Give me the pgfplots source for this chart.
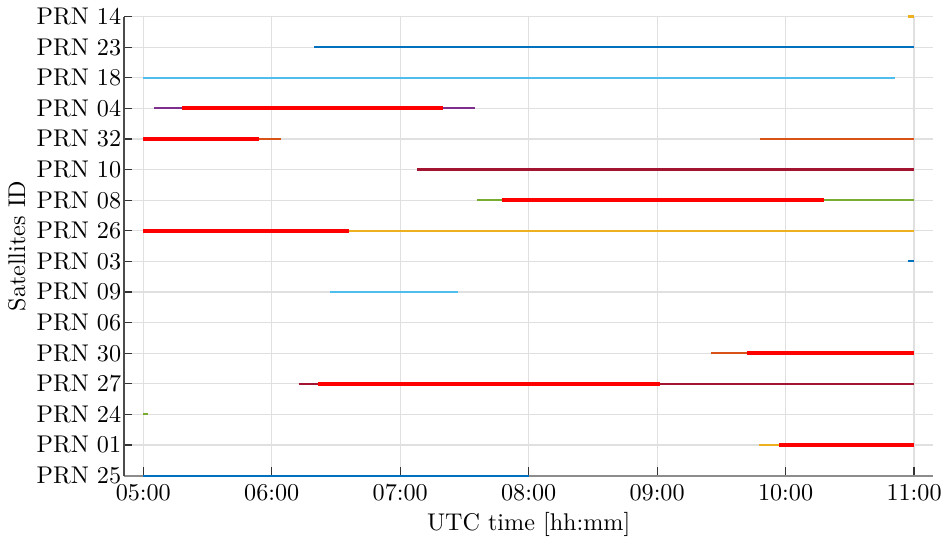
\documentclass[border=0pt]{standalone}
\usepackage{pgfplots}
\pgfplotsset{compat=1.18}
\definecolor{mblue}{RGB}{0,114,189}
\definecolor{morange}{RGB}{217,83,25}
\definecolor{myellow}{RGB}{237,177,32}
\definecolor{mpurple}{RGB}{126,47,142}
\definecolor{mgreen}{RGB}{119,172,48}
\definecolor{mlblue}{RGB}{77,190,238}
\definecolor{mdred}{RGB}{162,20,47}
\begin{document}
\begin{tikzpicture}
\begin{axis}[
  scale only axis,
  width=335pt, height=190pt,
  xmin=4.85, xmax=11.15,
  ymin=0, ymax=15,
  clip=false,
  axis lines*=left,
  y axis line style={draw=black!70, line width=0.5pt},
  x axis line style={draw=gray!90, line width=0.8pt},
  xtick={5,6,7,8,9,10,11},
  xticklabels={05:00,06:00,07:00,08:00,09:00,10:00,11:00},
  ytick={0,...,15},
  yticklabels={PRN 25,PRN 01,PRN 24,PRN 27,PRN 30,PRN 06,PRN 09,PRN 03,PRN 26,PRN 08,PRN 10,PRN 32,PRN 04,PRN 18,PRN 23,PRN 14},
  yticklabel style={inner xsep=1pt},
  xticklabel style={inner xsep=1pt},
  tick align=inside,
  major tick length=3.5pt,
  tick style={black!80, line width=0.5pt},
  grid=major,
  major grid style={black!12, line width=0.5pt},
  xlabel={UTC time [hh:mm]},
  ylabel={Satellites ID},
  xlabel style={yshift=2pt},
]
% thin lines
\addplot[draw=mblue, line width=0.9pt] coordinates {(5,0) (8,0)};
\addplot[draw=myellow, line width=0.9pt] coordinates {(9.79,1) (11,1)};
\addplot[draw=mgreen, line width=0.9pt] coordinates {(5,2) (5.04,2)};
\addplot[draw=mdred, line width=0.9pt] coordinates {(6.21,3) (11,3)};
\addplot[draw=morange, line width=0.9pt] coordinates {(9.42,4) (11,4)};
\addplot[draw=mlblue, line width=0.9pt] coordinates {(6.45,6) (7.45,6)};
\addplot[draw=mblue, line width=0.9pt] coordinates {(10.95,7) (11,7)};
\addplot[draw=myellow, line width=0.9pt] coordinates {(5,8) (11,8)};
\addplot[draw=mgreen, line width=0.9pt] coordinates {(7.6,9) (11,9)};
\addplot[draw=mdred, line width=0.9pt] coordinates {(7.13,10) (11,10)};
\addplot[draw=morange, line width=0.9pt] coordinates {(5,11) (6.07,11)};
\addplot[draw=morange, line width=0.9pt] coordinates {(9.8,11) (11,11)};
\addplot[draw=mpurple, line width=0.9pt] coordinates {(5.08,12) (7.58,12)};
\addplot[draw=mlblue, line width=0.9pt] coordinates {(5,13) (10.85,13)};
\addplot[draw=mblue, line width=0.9pt] coordinates {(6.33,14) (11,14)};
\addplot[draw=myellow, line width=0.9pt] coordinates {(10.95,15) (11,15)};
% thick red segments
\addplot[draw=red, line width=1.6pt] coordinates {(9.95,1) (11,1)};
\addplot[draw=red, line width=1.6pt] coordinates {(6.36,3) (9.02,3)};
\addplot[draw=red, line width=1.6pt] coordinates {(9.7,4) (11,4)};
\addplot[draw=red, line width=1.6pt] coordinates {(5,8) (6.6,8)};
\addplot[draw=red, line width=1.6pt] coordinates {(7.79,9) (10.3,9)};
\addplot[draw=red, line width=1.6pt] coordinates {(5,11) (5.9,11)};
\addplot[draw=red, line width=1.6pt] coordinates {(5.3,12) (7.33,12)};
\end{axis}
\end{tikzpicture}
\end{document}
